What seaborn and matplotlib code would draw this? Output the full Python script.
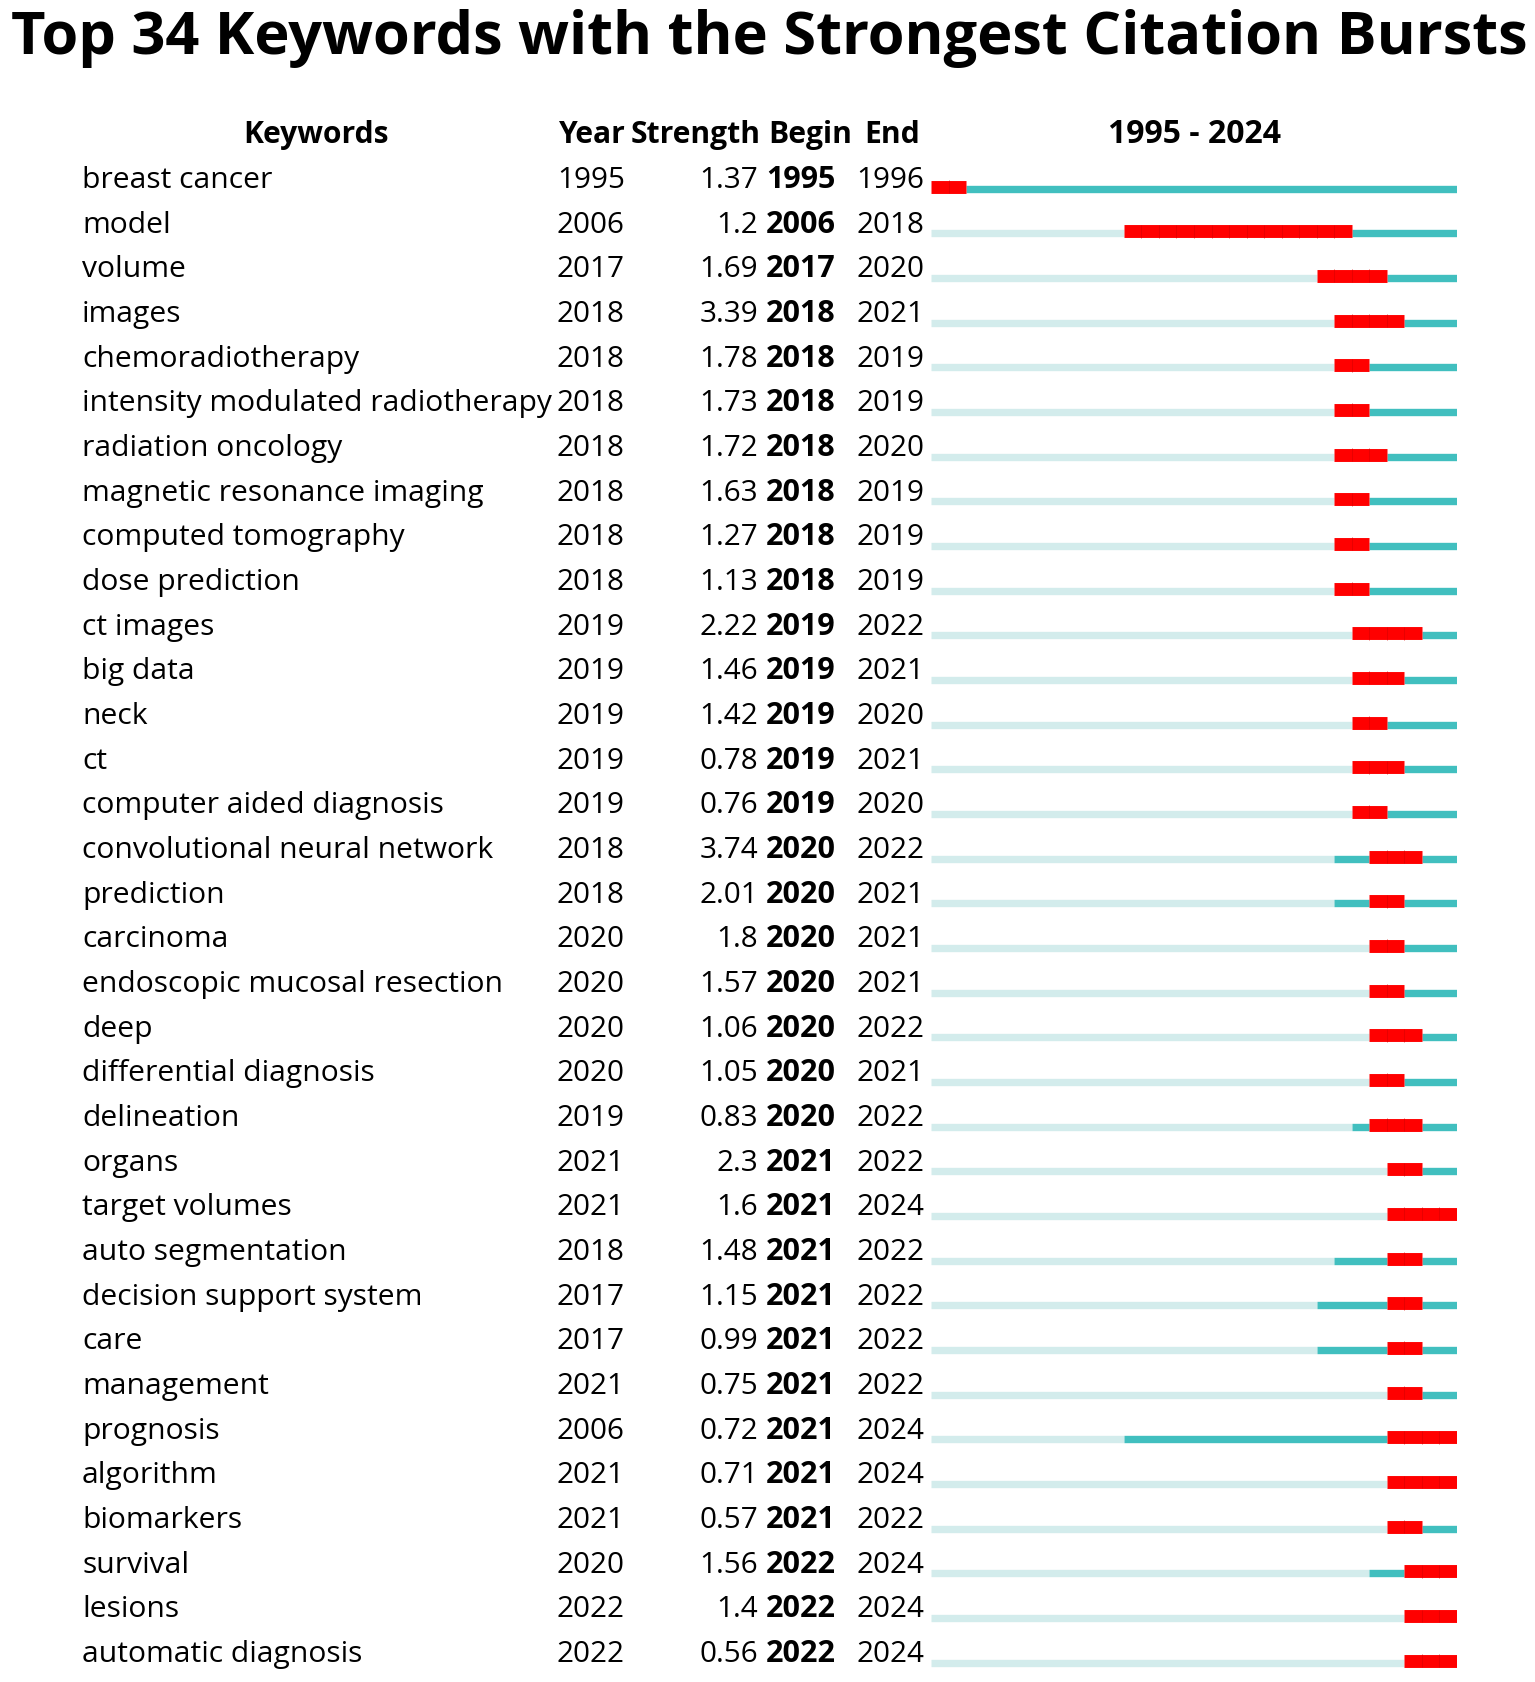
import numpy as np
import pandas as pd
import matplotlib.pyplot as plt
import seaborn as sns

# burst table (CiteSpace style)
keywords = ["breast cancer", "model", "volume", "images", "chemoradiotherapy",
            "intensity modulated radiotherapy", "radiation oncology",
            "magnetic resonance imaging", "computed tomography", "dose prediction",
            "ct images", "big data", "neck", "ct", "computer aided diagnosis",
            "convolutional neural network", "prediction", "carcinoma",
            "endoscopic mucosal resection", "deep", "differential diagnosis",
            "delineation", "organs", "target volumes", "auto segmentation",
            "decision support system", "care", "management", "prognosis",
            "algorithm", "biomarkers", "survival", "lesions", "automatic diagnosis"]
first_year = [1995, 2006, 2017, 2018, 2018, 2018, 2018, 2018, 2018, 2018,
              2019, 2019, 2019, 2019, 2019, 2018, 2018, 2020, 2020, 2020,
              2020, 2019, 2021, 2021, 2018, 2017, 2017, 2021, 2006, 2021,
              2021, 2020, 2022, 2022]
strength = [1.37, 1.2, 1.69, 3.39, 1.78, 1.73, 1.72, 1.63, 1.27, 1.13,
            2.22, 1.46, 1.42, 0.78, 0.76, 3.74, 2.01, 1.8, 1.57, 1.06,
            1.05, 0.83, 2.3, 1.6, 1.48, 1.15, 0.99, 0.75, 0.72, 0.71,
            0.57, 1.56, 1.4, 0.56]
begin = [1995, 2006, 2017, 2018, 2018, 2018, 2018, 2018, 2018, 2018,
         2019, 2019, 2019, 2019, 2019, 2020, 2020, 2020, 2020, 2020,
         2020, 2020, 2021, 2021, 2021, 2021, 2021, 2021, 2021, 2021,
         2021, 2022, 2022, 2022]
end = [1996, 2018, 2020, 2021, 2019, 2019, 2020, 2019, 2019, 2019,
       2022, 2021, 2020, 2021, 2020, 2022, 2021, 2021, 2021, 2022,
       2021, 2022, 2022, 2024, 2022, 2022, 2022, 2022, 2024, 2024,
       2022, 2024, 2024, 2024]

start_year, stop_year = 1995, 2024

sns.set_theme(style="white")
plt.rcParams['font.family'] = ['Open Sans', 'DejaVu Sans']
plt.rcParams['text.color'] = 'black'

# segments: light before first appearance, teal while present, red while bursting
rows = []
for i in range(len(keywords)):
    pieces = [("before", start_year, first_year[i]),
              ("active", first_year[i], begin[i]),
              ("burst", begin[i], end[i] + 1),
              ("active", end[i] + 1, stop_year + 1)]
    for j, (state, a, b) in enumerate(pieces):
        if b > a:
            seg = f"{i}-{j}"
            rows.append(dict(seg=seg, state=state, row=i, x=a))
            rows.append(dict(seg=seg, state=state, row=i, x=b))
seg_df = pd.DataFrame(rows)
seg_df["y"] = seg_df["row"] + seg_df["state"].map({"before": 0.035, "active": 0.035, "burst": -0.01})

W, H = 1535, 1683
pitch, top = 44.67, 188
ylim = ((H - top) / pitch, -top / pitch)

fig = plt.figure(figsize=(W / 100, H / 100), dpi=100)

ax_txt = fig.add_axes([0, 0, 1, 1])
ax_txt.set_xlim(0, W)
ax_txt.set_ylim(*ylim)
ax_txt.axis("off")

ax = fig.add_axes([931 / W, 0, (1457 - 931) / W, 1])
ax.set_xlim(start_year, stop_year + 1)
ax.set_ylim(*ylim)
ax.axis("off")

sns.lineplot(data=seg_df, x="x", y="y", units="seg", estimator=None, sort=False,
             hue="state", hue_order=["before", "active", "burst"],
             palette={"before": "#d3ecec", "active": "#41bfbf", "burst": "#ff0000"},
             size="state", size_order=["before", "active", "burst"],
             sizes={"before": 5.3, "active": 5.3, "burst": 9.3},
             legend=False, ax=ax, solid_capstyle="butt")

# thin year dividers inside the red bursts
for i in range(len(keywords)):
    yrs = np.arange(begin[i] + 1, end[i] + 1)
    ax.vlines(yrs, i - 0.155, i + 0.135, colors="#d80000", lw=0.6, alpha=0.7)

fs_kw, fs_num, fs_bold = 21.6, 21.3, 22
for i, kw in enumerate(keywords):
    ax_txt.text(82, i, kw, fontsize=fs_kw, va="baseline", ha="left")
    ax_txt.text(557, i, str(first_year[i]), fontsize=fs_num, va="baseline", ha="left")
    ax_txt.text(758, i, f"{strength[i]:g}", fontsize=fs_num, va="baseline", ha="right")
    ax_txt.text(766, i, str(begin[i]), fontsize=fs_bold, va="baseline", ha="left", fontweight="bold")
    ax_txt.text(856, i, str(end[i]), fontsize=fs_num, va="baseline", ha="left")

hdr = -1
fs_h = 21.6
ax_txt.text(316, hdr, "Keywords", fontsize=fs_h, fontweight="bold", va="baseline", ha="center")
ax_txt.text(559, hdr, "Year", fontsize=fs_h, fontweight="bold", va="baseline", ha="left")
ax_txt.text(631, hdr, "Strength", fontsize=fs_h, fontweight="bold", va="baseline", ha="left")
ax_txt.text(768, hdr, "Begin", fontsize=fs_h, fontweight="bold", va="baseline", ha="left")
ax_txt.text(864, hdr, "End", fontsize=fs_h, fontweight="bold", va="baseline", ha="left")
ax_txt.text(1195, hdr, f"{start_year} - {stop_year}", fontsize=23, fontweight="bold",
            va="baseline", ha="center")

ax_txt.text(769, -3.0, "Top 34 Keywords with the Strongest Citation Bursts",
            fontsize=42.8, fontweight="bold", va="baseline", ha="center")

fig.savefig("out.png", dpi=100)
